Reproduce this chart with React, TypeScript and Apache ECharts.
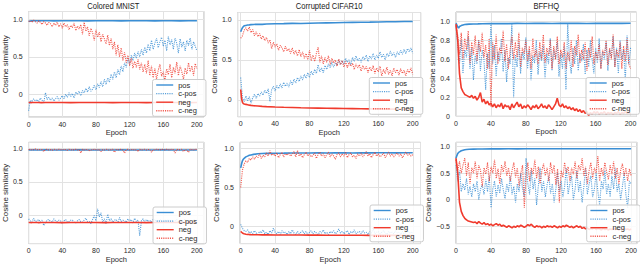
import React, { useEffect, useRef } from "react";
import * as echarts from "echarts";

// ---------------- data ----------------
const EP_FULL = Array.from({ length: 101 }, (_, i) => i * 2);
const EP_SMOOTH = [0, 1, 2, 3, 4, 6, 8, 10, 12, 15, 20, 25, 30, 40, 50, 60, 70, 80, 90, 100, 110, 120, 130, 140, 150, 160, 170, 180, 190, 200];

const SERIES_NAMES = ["pos", "c-pos", "neg", "c-neg"];
const TITLES = ["Colored MNIST", "Corrupted CIFAR10", "BFFHQ"];
const X_TICKS = [0, 40, 80, 120, 160, 200];
const X_LABELS = ["0", "40", "80", "120", "160", "200"];
const Y_TICKS_HALF = [0, 0.5, 1.0];
const Y_LABELS_HALF = ["0", "0.5", "1.0"];
const Y_TICKS_FIFTH = [0, 0.2, 0.4, 0.6, 0.8, 1.0];
const Y_LABELS_FIFTH = ["0", "0.2", "0.4", "0.6", "0.8", "1.0"];
const Y_TICKS_NEG = [-0.5, 0, 0.5, 1.0];
const Y_LABELS_NEG = ["\u22120.5", "0", "0.5", "1.0"];

// Panel 1: Colored MNIST (top)
const mnistPos = [0.97, 0.975, 0.978, 0.98, 0.979, 0.98, 0.981, 0.98, 0.979, 0.98, 0.981, 0.98, 0.979, 0.98, 0.981, 0.98, 0.979, 0.98, 0.98, 0.981, 0.979, 0.98, 0.98, 0.981, 0.979, 0.98, 0.98, 0.979, 0.981, 0.98];
const mnistNeg = [-0.11, -0.11, -0.11, -0.111, -0.11, -0.11, -0.109, -0.11, -0.11, -0.111, -0.11, -0.11, -0.109, -0.11, -0.111, -0.11, -0.11, -0.109, -0.11, -0.111, -0.11, -0.11, -0.11, -0.111, -0.11, -0.109, -0.11, -0.11, -0.111, -0.11];
const mnistCPos = [
  -0.22, -0.08, -0.1, -0.06, -0.09, -0.07, -0.1, -0.05, -0.08, -0.11,
  0.02, -0.07, -0.04, -0.08, -0.05, -0.09, -0.06, -0.03, -0.08, -0.05,
  -0.02, -0.06, 0.0, -0.04, 0.02, -0.03, 0.01, -0.05, 0.03, 0.0,
  0.04, -0.02, 0.05, 0.02, 0.08, 0.03, 0.1, 0.04, 0.07, 0.12,
  0.06, 0.14, 0.09, 0.17, 0.1, 0.2, 0.13, 0.22, 0.16, 0.27,
  0.2, 0.3, 0.22, 0.33, 0.26, 0.38, 0.3, 0.42, 0.36, 0.48,
  0.4, 0.52, 0.45, 0.55, 0.48, 0.57, 0.5, 0.6, 0.52, 0.63,
  0.55, 0.67, 0.58, 0.72, 0.6, 0.68, 0.75, 0.62, 0.7, 0.76,
  0.64, 0.72, 0.58, 0.77, 0.66, 0.73, 0.6, 0.75, 0.68, 0.55,
  0.74, 0.63, 0.7, 0.58, 0.72, 0.65, 0.75, 0.6, 0.7, 0.64,
  0.58,
];
const mnistCNeg = [
  0.97, 0.98, 0.96, 0.99, 0.97, 0.95, 0.98, 0.96, 0.93, 0.97,
  0.95, 0.92, 0.96, 0.94, 0.9, 0.95, 0.92, 0.96, 0.9, 0.94,
  0.88, 0.95, 0.9, 0.93, 0.86, 0.92, 0.89, 0.95, 0.85, 0.91,
  0.87, 0.93, 0.8, 0.96, 0.84, 0.9, 0.78, 0.88, 0.82, 0.72,
  0.86, 0.76, 0.83, 0.7, 0.8, 0.74, 0.67, 0.79, 0.65, 0.75,
  0.6, 0.7, 0.52, 0.66, 0.5, 0.62, 0.45, 0.56, 0.42, 0.52,
  0.38, 0.48, 0.35, 0.44, 0.36, 0.47, 0.33, 0.42, 0.3, 0.4,
  0.28, 0.45, 0.25, 0.38, 0.22, 0.35, 0.2, 0.32, 0.4, 0.24,
  0.3, 0.18, 0.34, 0.26, 0.4, 0.22, 0.36, 0.28, 0.43, 0.25,
  0.38, 0.3, 0.2, 0.35, 0.27, 0.42, 0.3, 0.38, 0.25, 0.41,
  0.34,
];

// Panel 2: Corrupted CIFAR10 (top)
const cifarPos = [0.85, 0.88, 0.9, 0.915, 0.925, 0.93, 0.935, 0.937, 0.94, 0.942, 0.945, 0.943, 0.947, 0.95, 0.952, 0.955, 0.953, 0.957, 0.96, 0.962, 0.964, 0.966, 0.968, 0.97, 0.971, 0.973, 0.975, 0.976, 0.978, 0.979];
const cifarNeg = [0.13, 0.02, -0.03, -0.045, -0.05, -0.055, -0.06, -0.065, -0.068, -0.072, -0.076, -0.08, -0.083, -0.088, -0.092, -0.095, -0.098, -0.1, -0.102, -0.104, -0.105, -0.107, -0.108, -0.11, -0.111, -0.112, -0.114, -0.115, -0.116, -0.118];
const cifarCPos = [
  0.28, 0.02, -0.02, 0.05, -0.01, 0.04, -0.04, 0.03, 0.07, 0.02,
  0.08, 0.05, 0.1, 0.06, 0.12, 0.08, 0.14, -0.02, 0.13, 0.17,
  0.11, 0.18, 0.14, 0.2, 0.15, 0.22, 0.17, 0.21, 0.16, 0.24,
  0.19, 0.26, 0.21, 0.28, 0.23, 0.3, 0.25, 0.32, 0.27, 0.34,
  0.28, 0.36, 0.31, 0.38, 0.33, 0.44, 0.35, 0.4, 0.34, 0.43,
  0.38, 0.45, 0.4, 0.47, 0.41, 0.46, 0.43, 0.5, 0.44, 0.49,
  0.45, 0.52, 0.47, 0.5, 0.44, 0.53, 0.48, 0.55, 0.49, 0.52,
  0.47, 0.54, 0.5, 0.56, 0.48, 0.55, 0.51, 0.58, 0.5, 0.56,
  0.52, 0.6, 0.53, 0.57, 0.5, 0.58, 0.54, 0.61, 0.55, 0.59,
  0.53, 0.6, 0.56, 0.62, 0.57, 0.63, 0.58, 0.64, 0.6, 0.65,
  0.58,
];
const cifarCNeg = [
  0.77, 0.8, 0.87, 0.9, 0.86, 0.91, 0.84, 0.88, 0.8, 0.85,
  0.79, 0.83, 0.76, 0.8, 0.74, 0.78, 0.71, 0.75, 0.64, 0.72,
  0.66, 0.7, 0.62, 0.68, 0.65, 0.6, 0.67, 0.61, 0.64, 0.58,
  0.65, 0.57, 0.62, 0.55, 0.63, 0.54, 0.6, 0.52, 0.58, 0.5,
  0.62, 0.49, 0.56, 0.48, 0.58, 0.66, 0.47, 0.55, 0.45, 0.53,
  0.47, 0.55, 0.44, 0.52, 0.46, 0.5, 0.42, 0.51, 0.44, 0.49,
  0.41, 0.48, 0.4, 0.47, 0.42, 0.46, 0.38, 0.45, 0.4, 0.44,
  0.36, 0.43, 0.38, 0.42, 0.34, 0.41, 0.36, 0.43, 0.33, 0.4,
  0.35, 0.42, 0.3, 0.38, 0.33, 0.41, 0.32, 0.37, 0.3, 0.4,
  0.34, 0.38, 0.31, 0.39, 0.33, 0.37, 0.3, 0.38, 0.34, 0.4,
  0.32,
];

// Panel 3: BFFHQ (top)
const bffhqPos = [0.98, 0.96, 0.94, 0.93, 0.945, 0.955, 0.962, 0.966, 0.968, 0.97, 0.972, 0.973, 0.975, 0.976, 0.977, 0.976, 0.978, 0.977, 0.978, 0.979, 0.977, 0.978, 0.979, 0.978, 0.977, 0.979, 0.978, 0.979, 0.978, 0.979];
const bffhqNeg = [
  0.97, 0.8, 0.45, 0.3, 0.26, 0.23, 0.22, 0.21, 0.2, 0.22,
  0.19, 0.21, 0.17, 0.2, 0.25, 0.15, 0.18, 0.13, 0.16, 0.12,
  0.14, 0.1, 0.13, 0.09, 0.12, 0.1, 0.14, 0.08, 0.12, 0.1,
  0.11, 0.07, 0.13, 0.09, 0.12, 0.15, 0.1, 0.13, 0.08, 0.11,
  0.09, 0.12, 0.1, 0.07, 0.11, 0.09, 0.12, 0.08, 0.1, 0.13,
  0.09, 0.11, 0.08, 0.12, 0.1, 0.07, 0.1, 0.13, 0.19, 0.12,
  0.1, 0.13, 0.09, 0.11, 0.08, 0.1, 0.07, 0.09, 0.06, 0.08,
  0.05, 0.07, 0.04, 0.06, 0.03, 0.05, 0.01, 0.04, 0.02, 0.05,
  0.03, 0.05, 0.02, 0.04, 0.03, 0.05, 0.02, 0.04, 0.03, 0.04,
  0.02, 0.04, 0.03, 0.05, 0.02, 0.04, 0.03, 0.05, 0.03, 0.04,
  0.03,
];
const bffhqCPos = [
  0.96, 0.75, 0.55, 0.8, 0.45, 0.7, 0.62, 0.84, 0.5, 0.72,
  0.38, 0.65, 0.55, 0.8, 0.48, 0.7, 0.6, 0.28, 0.66, 0.5,
  0.98, 0.55, 0.75, 0.42, 0.68, 0.58, 0.82, 0.47, 0.7, 0.36,
  0.62, 0.55, 0.97, 0.2, 0.65, 0.52, 0.78, 0.45, 0.68, 0.6,
  0.83, 0.5, 0.7, 0.38, 0.64, 0.56, 0.8, 0.44, 0.68, 0.58,
  0.75, 0.4, 0.66, 0.55, 0.82, 0.48, 0.7, 0.6, 0.78, 0.42,
  0.66, 0.5, 0.74, 0.28, 0.97, 0.6, 0.45, 0.72, 0.55, 0.8,
  0.48, 0.66, 0.58, 0.76, 0.44, 0.7, 0.52, 0.8, 0.6, 0.45,
  0.72, 0.56, 0.82, 0.5, 0.68, 0.6, 0.78, 0.48, 0.7, 0.62,
  0.84, 0.52, 0.72, 0.45, 0.8, 0.6, 0.7, 0.38, 0.85, 0.55,
  0.72,
];
const bffhqCNeg = [
  0.95, 0.85, 0.65, 0.88, 0.6, 0.82, 0.7, 0.9, 0.55, 0.78,
  0.65, 0.85, 0.58, 0.8, 0.68, 0.88, 0.62, 0.75, 0.5, 0.82,
  0.1, 0.78, 0.6, 0.86, 0.55, 0.72, 0.66, 0.9, 0.58, 0.76,
  0.5, 0.7, 0.85, 0.6, 0.78, 0.62, 0.88, 0.52, 0.72, 0.66,
  0.8, 0.58, 0.74, 0.5, 0.82, 0.62, 0.7, 0.55, 0.78, 0.6,
  0.86, 0.56, 0.72, 0.64, 0.8, 0.5, 0.74, 0.6, 0.84, 0.55,
  0.7, 0.62, 0.78, 0.5, 0.68, 0.58, 0.8, 0.52, 0.74, 0.64,
  0.86, 0.56, 0.7, 0.6, 0.78, 0.48, 0.72, 0.62, 0.84, 0.55,
  0.68, 0.6, 0.76, 0.5, 0.7, 0.64, 0.8, 0.54, 0.72, 0.6,
  0.86, 0.52, 0.7, 0.62, 0.78, 0.5, 0.74, 0.58, 0.82, 0.55,
  0.5,
];

// Panel 4: Colored MNIST (bottom)
const mnist2Pos = [0.975, 0.976, 0.975, 0.974, 0.975, 0.976, 0.975, 0.975, 0.974, 0.975, 0.976, 0.975, 0.975, 0.974, 0.975, 0.976, 0.975, 0.975, 0.974, 0.975, 0.976, 0.975, 0.975, 0.974, 0.975, 0.976, 0.975, 0.975, 0.974, 0.975];
const mnist2Neg = [-0.105, -0.104, -0.105, -0.106, -0.105, -0.104, -0.105, -0.105, -0.106, -0.105, -0.104, -0.105, -0.105, -0.106, -0.105, -0.104, -0.105, -0.105, -0.106, -0.105, -0.104, -0.105, -0.105, -0.106, -0.105, -0.104, -0.105, -0.105, -0.106, -0.105];
const mnist2CPos = [
  -0.05, -0.08, -0.1, -0.04, -0.09, -0.08, -0.06, -0.1, -0.07, -0.15,
  -0.1, -0.07, -0.06, -0.09, -0.1, -0.05, -0.08, -0.09, -0.07, -0.08,
  -0.12, -0.08, -0.06, -0.1, -0.09, -0.07, -0.07, -0.1, -0.11, -0.08,
  -0.06, -0.09, -0.1, -0.07, -0.04, -0.09, -0.09, -0.12, -0.06, 0.0,
  -0.08, 0.1, -0.02, 0.04, -0.1, -0.05, -0.12, 0.02, -0.08, -0.05,
  -0.1, -0.07, -0.06, -0.11, -0.03, -0.09, -0.07, -0.08, -0.1, -0.05,
  -0.08, -0.06, -0.11, -0.04, -0.09, -0.07, -0.3, -0.08, -0.05, -0.1,
  -0.06, -0.09, -0.07, -0.1, -0.05, -0.08, -0.07, -0.09, -0.06, -0.08,
  -0.1, -0.07, -0.08, -0.06, -0.09, -0.07, -0.1, -0.08, -0.06, -0.09,
  -0.07, -0.1, -0.08, -0.06, -0.09, -0.07, -0.08, -0.1, -0.06, -0.08,
  -0.07,
];
const mnist2CNeg = [
  0.98, 0.985, 0.975, 0.98, 0.99, 0.98, 0.975, 0.985, 0.98, 0.95,
  0.98, 0.985, 0.975, 0.98, 0.97, 0.985, 0.98, 0.975, 0.985, 0.98,
  0.975, 0.985, 0.98, 0.97, 0.985, 0.98, 0.975, 0.98, 0.985, 0.975,
  0.98, 0.93, 0.985, 0.975, 0.98, 0.985, 0.96, 0.98, 0.975, 0.985,
  0.98, 0.975, 0.985, 0.95, 0.98, 0.975, 0.985, 0.98, 0.97, 0.98,
  0.985, 0.94, 0.98, 0.975, 0.985, 0.98, 0.975, 0.93, 0.98, 0.985,
  0.975, 0.98, 0.985, 0.97, 0.98, 0.95, 0.985, 0.975, 0.98, 0.985,
  0.975, 0.98, 0.985, 0.94, 0.98, 0.975, 0.985, 0.98, 0.975, 0.985,
  0.98, 0.975, 0.985, 0.98, 0.975, 0.985, 0.98, 0.93, 0.985, 0.975,
  0.98, 0.985, 0.95, 0.98, 0.975, 0.94, 0.985, 0.98, 0.975, 0.985,
  0.98,
];

// Panel 5: Corrupted CIFAR10 (bottom)
const cifar2Pos = [0.75, 0.8, 0.84, 0.86, 0.87, 0.89, 0.9, 0.91, 0.915, 0.922, 0.93, 0.933, 0.935, 0.937, 0.938, 0.94, 0.939, 0.94, 0.941, 0.94, 0.942, 0.941, 0.94, 0.942, 0.941, 0.943, 0.942, 0.941, 0.943, 0.942];
const cifar2Neg = [-0.06, -0.07, -0.08, -0.085, -0.09, -0.095, -0.098, -0.1, -0.101, -0.102, -0.103, -0.104, -0.104, -0.105, -0.105, -0.106, -0.106, -0.107, -0.107, -0.108, -0.108, -0.108, -0.109, -0.109, -0.11, -0.11, -0.11, -0.11, -0.111, -0.111];
const cifar2CPos = [
  0.03, -0.02, -0.05, -0.06, -0.04, -0.08, -0.06, -0.09, -0.05, -0.08,
  -0.1, -0.06, -0.08, -0.04, -0.09, -0.07, -0.1, -0.05, -0.08, -0.02,
  -0.07, -0.09, -0.06, -0.1, -0.05, -0.08, -0.07, -0.1, -0.06, -0.09,
  -0.04, -0.08, -0.1, -0.06, -0.09, -0.07, -0.05, -0.09, -0.06, -0.1,
  -0.07, -0.05, -0.09, -0.06, -0.08, -0.1, -0.06, -0.08, -0.04, -0.09,
  -0.07, -0.1, -0.06, -0.08, -0.05, -0.09, -0.07, -0.03, -0.08, -0.06,
  -0.09, -0.07, -0.05, -0.1, -0.06, -0.08, -0.04, -0.09, -0.07, -0.06,
  -0.09, -0.05, -0.08, -0.07, -0.1, -0.06, -0.08, -0.02, -0.09, -0.07,
  -0.06, -0.09, -0.07, -0.05, -0.08, -0.1, -0.06, -0.08, -0.07, -0.09,
  -0.05, -0.08, -0.07, -0.1, -0.06, -0.09, -0.07, -0.05, -0.08, -0.07,
  -0.08,
];
const cifar2CNeg = [
  0.5, 0.72, 0.8, 0.84, 0.82, 0.87, 0.85, 0.89, 0.86, 0.9,
  0.88, 0.93, 0.87, 0.91, 0.89, 0.94, 0.9, 0.97, 0.91, 0.93,
  0.9, 0.94, 0.88, 0.92, 0.95, 0.89, 0.93, 0.91, 0.94, 0.9,
  0.92, 0.96, 0.89, 0.97, 0.9, 0.93, 0.88, 0.92, 0.95, 0.9,
  0.93, 0.89, 0.91, 0.94, 0.87, 0.92, 0.95, 0.9, 0.93, 0.88,
  0.92, 0.95, 0.89, 0.93, 0.9, 0.86, 0.92, 0.94, 0.89, 0.93,
  0.9, 0.95, 0.88, 0.92, 0.94, 0.89, 0.91, 0.87, 0.93, 0.9,
  0.94, 0.89, 0.92, 0.96, 0.9, 0.93, 0.88, 0.92, 0.95, 0.9,
  0.93, 0.89, 0.91, 0.94, 0.88, 0.92, 0.95, 0.9, 0.93, 0.89,
  0.92, 0.94, 0.9, 0.93, 0.88, 0.92, 0.95, 0.91, 0.93, 0.9,
  0.92,
];

// Panel 6: BFFHQ (bottom)
const bffhq2Pos = [0.78, 0.83, 0.87, 0.89, 0.9, 0.92, 0.93, 0.94, 0.945, 0.95, 0.952, 0.954, 0.955, 0.956, 0.957, 0.958, 0.957, 0.958, 0.959, 0.958, 0.959, 0.96, 0.959, 0.96, 0.959, 0.96, 0.96, 0.959, 0.96, 0.96];
const bffhq2Neg = [
  0.78, 0.5, -0.05, -0.22, -0.3, -0.35, -0.38, -0.4, -0.41, -0.42,
  -0.43, -0.42, -0.45, -0.41, -0.44, -0.46, -0.43, -0.47, -0.45, -0.48,
  -0.46, -0.49, -0.47, -0.45, -0.48, -0.46, -0.5, -0.48, -0.5, -0.52,
  -0.49, -0.51, -0.53, -0.5, -0.52, -0.49, -0.51, -0.48, -0.5, -0.52,
  -0.5, -0.47, -0.49, -0.46, -0.5, -0.52, -0.49, -0.51, -0.5, -0.53,
  -0.5, -0.52, -0.49, -0.51, -0.5, -0.52, -0.49, -0.51, -0.53, -0.5,
  -0.52, -0.49, -0.51, -0.48, -0.5, -0.52, -0.5, -0.53, -0.51, -0.49,
  -0.52, -0.5, -0.54, -0.52, -0.55, -0.53, -0.56, -0.54, -0.55, -0.53,
  -0.56, -0.54, -0.55, -0.57, -0.54, -0.56, -0.55, -0.57, -0.55, -0.56,
  -0.54, -0.56, -0.55, -0.57, -0.55, -0.56, -0.54, -0.56, -0.55, -0.57,
  -0.55,
];
const bffhq2CPos = [
  0.65, 0.35, 0.55, 0.15, 0.3, 0.18, 0.4, 0.1, 0.25, 0.05,
  0.3, 0.15, 0.35, 0.0, 0.2, 0.28, 0.1, 0.38, 0.15, 0.45,
  -0.15, 0.2, 0.35, 0.05, 0.28, 0.12, 0.4, 0.18, 0.02, 0.3,
  0.15, 0.45, 0.1, 0.25, -0.05, 0.3, 0.15, 0.5, 0.2, 0.05,
  0.78, 0.3, 0.1, 0.55, 0.2, 0.4, -0.1, 0.25, 0.6, 0.15,
  0.35, 0.05, 0.28, 0.45, 0.12, 0.3, -0.05, 0.2, 0.5, 0.15,
  0.35, 0.05, 0.25, 0.6, 0.1, 0.3, 0.45, 0.0, 0.2, 0.55,
  0.15, 0.35, -0.05, 0.25, 0.6, 0.1, 0.3, 0.45, 0.05, 0.2,
  0.5, 0.15, -0.1, 0.35, 0.2, 0.55, 0.1, 0.3, 0.05, 0.45,
  0.2, 0.6, 0.15, 0.3, 0.0, 0.25, 0.5, 0.1, -0.15, 0.35,
  0.3,
];
const bffhq2CNeg = [
  0.75, 0.55, 0.72, 0.5, 0.65, 0.78, 0.45, 0.7, 0.3, 0.6,
  0.5, 0.72, 0.4, 0.65, 0.55, 0.25, 0.6, 0.48, 0.7, 0.35,
  0.62, 0.5, 0.75, 0.4, 0.58, 0.3, 0.65, 0.52, 0.72, 0.45,
  0.6, 0.35, 0.55, 0.7, 0.42, 0.6, 0.25, 0.5, 0.65, -0.15,
  0.45, 0.7, 0.35, 0.6, 0.48, 0.75, 0.4, 0.62, 0.3, 0.55,
  0.68, 0.45, 0.6, 0.35, 0.7, 0.5, 0.65, 0.28, 0.58, -0.05,
  0.55, 0.42, 0.7, 0.5, 0.62, 0.35, 0.6, 0.48, 0.72, 0.4,
  0.65, 0.55, 0.78, 0.45, 0.62, 0.3, 0.55, 0.7, 0.4, 0.6,
  0.5, 0.82, 0.35, 0.6, 0.45, 0.7, 0.52, 0.38, 0.65, 0.48,
  0.72, 0.4, 0.6, 0.3, 0.55, 0.68, 0.45, 0.6, 0.35, 0.58,
  0.45,
];

// ---------------- layout / style ----------------
const BLUE = "#3a8ed4";
const RED = "#f03a2d";
const FONT = "'Liberation Sans', Arial, Helvetica, sans-serif";
const TEXT = "#2a2a2a";

const PANEL_SERIES = [
  [[EP_SMOOTH, mnistPos], [EP_FULL, mnistCPos], [EP_SMOOTH, mnistNeg], [EP_FULL, mnistCNeg]],
  [[EP_SMOOTH, cifarPos], [EP_FULL, cifarCPos], [EP_SMOOTH, cifarNeg], [EP_FULL, cifarCNeg]],
  [[EP_SMOOTH, bffhqPos], [EP_FULL, bffhqCPos], [EP_FULL, bffhqNeg], [EP_FULL, bffhqCNeg]],
  [[EP_SMOOTH, mnist2Pos], [EP_FULL, mnist2CPos], [EP_SMOOTH, mnist2Neg], [EP_FULL, mnist2CNeg]],
  [[EP_SMOOTH, cifar2Pos], [EP_FULL, cifar2CPos], [EP_SMOOTH, cifar2Neg], [EP_FULL, cifar2CNeg]],
  [[EP_SMOOTH, bffhq2Pos], [EP_FULL, bffhq2CPos], [EP_FULL, bffhq2Neg], [EP_FULL, bffhq2CNeg]],
] as const;

const LAYOUT = [
  { left: 22.7, top: 11.5, width: 181.3, height: 105.5, xMin: 0, xMax: 208.4, yMin: -0.303, yMax: 1.104, yStep: 0.5, yTicks: Y_TICKS_HALF, yLabels: Y_LABELS_HALF, legendLeft: 152.5, legendTop: 79.5 },
  { left: 237.7, top: 12.5, width: 183, height: 104.2, xMin: -3.5, xMax: 209.3, yMin: -0.209, yMax: 1.091, yStep: 0.5, yTicks: Y_TICKS_HALF, yLabels: Y_LABELS_HALF, legendLeft: 369.3, legendTop: 77.5 },
  { left: 456, top: 12, width: 180.5, height: 104.3, xMin: 0, xMax: 206.8, yMin: 0, yMax: 1.098, yStep: 0.2, yTicks: Y_TICKS_FIFTH, yLabels: Y_LABELS_FIFTH, legendLeft: 586, legendTop: 77.5 },
  { left: 22.7, top: 142.3, width: 181.3, height: 102, xMin: 0, xMax: 208.4, yMin: -0.418, yMax: 1.089, yStep: 0.5, yTicks: Y_TICKS_HALF, yLabels: Y_LABELS_HALF, legendLeft: 153, legendTop: 207 },
  { left: 240, top: 142.3, width: 180.5, height: 102, xMin: -0.8, xMax: 209, yMin: -0.215, yMax: 1.076, yStep: 0.5, yTicks: Y_TICKS_HALF, yLabels: Y_LABELS_HALF, legendLeft: 370, legendTop: 205 },
  { left: 456, top: 142.3, width: 181, height: 102, xMin: 0, xMax: 206.6, yMin: -0.826, yMax: 1.08, yStep: 0.5, yTicks: Y_TICKS_NEG, yLabels: Y_LABELS_NEG, legendLeft: 586.7, legendTop: 205 },
];

function tickFormatter(ticks: number[], labels: string[]) {
  return (v: number) => {
    const i = ticks.findIndex((t) => Math.abs(t - v) < 1e-6);
    return i >= 0 ? labels[i] : "";
  };
}

function buildOption() {
  const grid: any[] = [];
  const xAxis: any[] = [];
  const yAxis: any[] = [];
  const series: any[] = [];
  const legend: any[] = [];
  const graphic: any[] = [];

  LAYOUT.forEach((L, i) => {
    grid.push({ left: L.left, top: L.top, width: L.width, height: L.height, show: true, borderColor: "#b4b4b4", borderWidth: 1, backgroundColor: "transparent" });
    xAxis.push({
      type: "value", gridIndex: i, min: L.xMin, max: L.xMax, minInterval: 40, maxInterval: 40,
      name: "Epoch", nameLocation: "middle", nameGap: 9.5,
      nameTextStyle: { fontFamily: FONT, fontSize: 7.5, color: TEXT },
      axisLine: { show: false }, axisTick: { show: false },
      axisLabel: { fontFamily: FONT, fontSize: 7, color: TEXT, margin: 3.5, formatter: tickFormatter(X_TICKS, X_LABELS) },
      splitLine: { show: true, lineStyle: { color: "#e2e2e2", width: 1 } },
    });
    yAxis.push({
      type: "value", gridIndex: i, min: L.yMin, max: L.yMax, minInterval: L.yStep, maxInterval: L.yStep,
      name: "Cosine similarity", nameLocation: "middle", nameGap: 15, nameRotate: 90,
      nameTextStyle: { fontFamily: FONT, fontSize: 8, color: TEXT },
      axisLine: { show: false }, axisTick: { show: false },
      axisLabel: { fontFamily: FONT, fontSize: 7, color: TEXT, margin: 6, formatter: tickFormatter(L.yTicks, L.yLabels) },
      splitLine: { show: true, lineStyle: { color: "#e2e2e2", width: 1 } },
    });
    PANEL_SERIES[i].forEach(([ep, vals], k) => {
      const isRed = k >= 2;
      const dotted = k % 2 === 1;
      series.push({
        type: "line", name: SERIES_NAMES[k], xAxisIndex: i, yAxisIndex: i,
        data: (vals as readonly number[]).map((v, j) => [(ep as readonly number[])[j], v]),
        symbol: "none", showSymbol: false, silent: true, animation: false,
        lineStyle: { color: isRed ? RED : BLUE, width: dotted ? 1.1 : 1.6, type: dotted ? [1.1, 1.1] : "solid", opacity: dotted ? 0.85 : 1 },
        itemStyle: { color: isRed ? RED : BLUE },
        emphasis: { disabled: true },
      });
    });
    legend.push({
      orient: "vertical", left: L.legendLeft, top: L.legendTop,
      data: SERIES_NAMES, itemWidth: 17, itemHeight: 8, itemGap: 0.6,
      padding: [1.5, 9, 1.5, 3],
      backgroundColor: "rgba(255,255,255,0.85)", borderColor: "#cccccc", borderWidth: 1, borderRadius: 2,
      itemStyle: { color: "transparent", borderWidth: 0, opacity: 0 },
      lineStyle: { width: 1.4 },
      textStyle: { fontFamily: FONT, fontSize: 7.5, color: TEXT, lineHeight: 8 },
      selectedMode: false,
    });
    if (i < 3) {
      graphic.push({
        type: "text", x: L.left + L.width / 2, y: 5.8, scaleX: 0.8, scaleY: 1,
        style: { text: TITLES[i], font: `9.5px ${FONT}`, fill: "#1a1a1a", textAlign: "center", textVerticalAlign: "middle" },
      });
    }
  });

  return { animation: false, backgroundColor: "#ffffff", grid, xAxis, yAxis, series, legend, graphic };
}

export default function App() {
  const ref = useRef<HTMLDivElement>(null);
  useEffect(() => {
    const chart = echarts.init(ref.current!, null, { renderer: "svg" });
    chart.setOption(buildOption() as any);
    return () => chart.dispose();
  }, []);
  return <div ref={ref} style={{ position: "absolute", left: 0, top: 0, width: 640, height: 264, background: "#fff" }} />;
}
